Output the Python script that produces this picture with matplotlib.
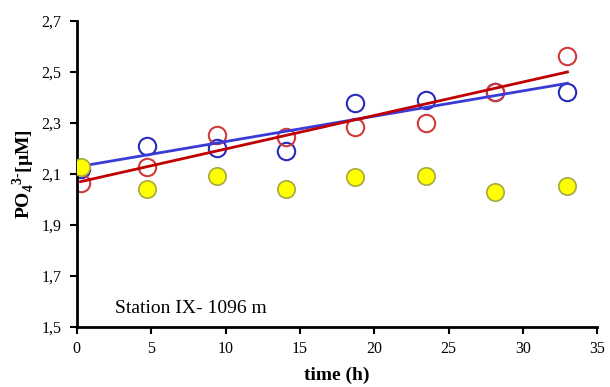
import numpy as np
import matplotlib.pyplot as plt
from matplotlib.ticker import FuncFormatter

# sampling times (h)
time_h = [0.25, 4.7, 9.4, 14.1, 18.7, 23.5, 28.1, 33.0]
# PO4 concentrations (uM)
po4_blue = [2.12, 2.21, 2.20, 2.19, 2.38, 2.39, 2.42, 2.42]
po4_red = [2.063, 2.129, 2.253, 2.246, 2.283, 2.301, 2.423, 2.564]
po4_yellow = [2.126, 2.04, 2.092, 2.04, 2.087, 2.093, 2.03, 2.053]

plt.rcParams['font.family'] = ['Liberation Serif', 'DejaVu Serif']
plt.rcParams['mathtext.fontset'] = 'custom'
plt.rcParams['mathtext.rm'] = 'Liberation Serif'
plt.rcParams['mathtext.bf'] = 'Liberation Serif:bold'

fig = plt.figure(figsize=(6.1, 3.87), dpi=100)
ax = fig.add_axes([0.126, 0.155, 0.853, 0.791])

t = np.array(time_h)
ax.plot(t, po4_blue, 'o', ms=12.5, mfc='none', mec='#2a2ab8', mew=1.5, zorder=2)
ax.plot(t, po4_red, 'o', ms=12.5, mfc='none', mec='#d03a3a', mew=1.5, zorder=2)

# linear fits
tt = np.array([t[0], t[-1]])
pb = np.polyfit(t, po4_blue, 1)
pr = np.polyfit(t, po4_red, 1)
ax.plot(tt, np.polyval(pb, tt), color='#3a3ad6', lw=2, zorder=3)
ax.plot(tt, np.polyval(pr, tt), color='#c00000', lw=2, zorder=3)

ax.plot(t, po4_yellow, 'o', ms=12.5, mfc='#ffff00', mec='#a8a840', mew=1.2, zorder=4)

ax.set_xlim(0, 35)
ax.set_ylim(1.5, 2.7)
ax.set_xticks(np.arange(0, 36, 5))
ax.set_yticks(np.arange(1.5, 2.71, 0.2))
ax.yaxis.set_major_formatter(FuncFormatter(lambda v, p: f"{v:.1f}".replace('.', ',')))
ax.tick_params(direction='out', length=5, width=1.5, labelsize=11.5, colors='black')
ax.tick_params(axis='y', pad=6)
ax.tick_params(axis='x', pad=5)
for s in ['top', 'right']:
    ax.spines[s].set_visible(False)
for s in ['left', 'bottom']:
    ax.spines[s].set_linewidth(2)

ax.set_xlabel('time (h)', fontsize=14, fontweight='bold', labelpad=7)
ax.set_ylabel(r'PO$_\mathbf{4}$$^\mathbf{3\text{-}}$[µM]', fontsize=14, fontweight='bold', labelpad=3)
ax.text(2.55, 1.555, 'Station IX- 1096 m', fontsize=14)

fig.savefig('out.png', dpi=100)
